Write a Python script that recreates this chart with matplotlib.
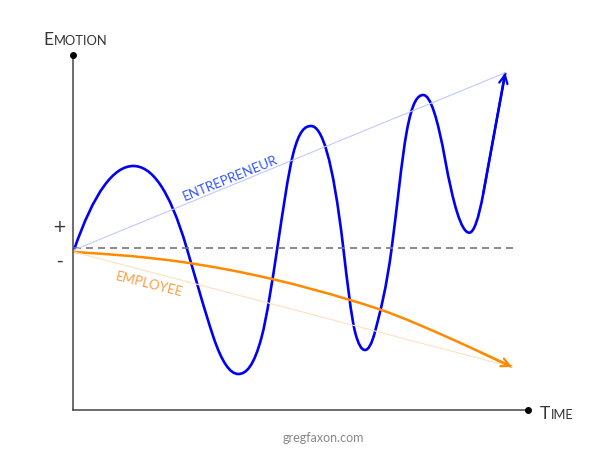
import matplotlib
matplotlib.use("Agg")
import numpy as np
import matplotlib.pyplot as plt
from matplotlib.path import Path
from matplotlib.patches import PathPatch
from matplotlib.offsetbox import TextArea, HPacker, AnnotationBbox

# key points (time, emotion) and the curve's slope there
blue_t = [0, 59.3, 112.7, 139.3, 164.3, 187.7, 203.3, 219.3, 237, 269.3, 281,
          291, 301, 317.7, 332.7, 349.3, 371, 395.3, 409.3, 431.3]
blue_e = [-2, 82, 0, -88.7, -126, -88.7, 0, 94.7, 122, 0, -83.7,
          -102, -83.7, 0, 116.3, 153, 89, 15.3, 54.7, 175.3]
blue_slope = [2.9, 0, -3.4, -3.0, 0, 3.8, 6.6, 3.9, 0, -8.5, -4,
              0, 3.8, 7.5, 5.5, 0, -5.5, 0, 5.4, 5.4]

orange_t = [0, 56, 106, 199.3, 276, 306, 376, 406, 438]
orange_e = [-4, -8, -13.7, -31.3, -52, -61.5, -90.3, -104, -119]

BLUE = "#0000f5"
ORANGE = "#ff8a00"
TXT = "#333333"


def hermite_path(xs, ys, ms):
    # cubic bezier through every key point with the given slopes
    verts = [(xs[0], ys[0])]
    codes = [Path.MOVETO]
    for i in range(len(xs) - 1):
        h = (xs[i + 1] - xs[i]) / 3
        verts += [(xs[i] + h, ys[i] + ms[i] * h),
                  (xs[i + 1] - h, ys[i + 1] - ms[i + 1] * h),
                  (xs[i + 1], ys[i + 1])]
        codes += [Path.CURVE4] * 3
    return Path(verts, codes)


fig = plt.figure(figsize=(6.15, 4.61), dpi=100)
ax = fig.add_axes([73 / 615, 51 / 461, 455 / 615, 355 / 461])
ax.set_xlim(-1, 454)
ax.set_ylim(-162, 193)
for s in ["top", "right"]:
    ax.spines[s].set_visible(False)
for s in ["left", "bottom"]:
    ax.spines[s].set_color("#444444")
    ax.spines[s].set_linewidth(1.1)
ax.set_xticks([])
ax.set_yticks([])
ax.plot([-1, 454], [193, -162], "o", color="black", ms=4, clip_on=False, zorder=5)

# baseline
ax.plot([0, 439], [0, 0], color="#777777", lw=1.2, ls=(0, (4.2, 3)))

# trend lines
ax.plot([blue_t[0], blue_t[-1]], [blue_e[0], blue_e[-1]], color="#c2c8ff", lw=0.8)
ax.plot([orange_t[0], orange_t[-1]], [orange_e[0], orange_e[-1]], color="#ffe0c2", lw=0.8)

# curves with open arrow heads
ax.add_patch(PathPatch(hermite_path(blue_t, blue_e, blue_slope), fill=False,
                       edgecolor=BLUE, lw=1.9, capstyle="butt"))
ax.annotate("", xy=(blue_t[-1], blue_e[-1]), xytext=(blue_t[-2], blue_e[-2]),
            arrowprops=dict(arrowstyle="->,head_length=0.6,head_width=0.3",
                            color=BLUE, lw=1.6, shrinkA=0, shrinkB=0))
orange_slope = np.gradient(orange_e, orange_t)
ax.add_patch(PathPatch(hermite_path(orange_t, orange_e, orange_slope), fill=False,
                       edgecolor=ORANGE, lw=1.8, capstyle="butt"))
ax.annotate("", xy=(orange_t[-1], orange_e[-1]), xytext=(orange_t[-2], orange_e[-2]),
            arrowprops=dict(arrowstyle="->,head_length=0.6,head_width=0.3",
                            color=ORANGE, lw=1.6, shrinkA=0, shrinkB=0))

font = ["Lato", "DejaVu Sans"]
ax.text(156, 70, "ENTREPRENEUR", color="#3355ff", fontsize=9.5, family=font,
        rotation=22, rotation_mode="anchor", ha="center", va="center")
ax.text(75, -36, "EMPLOYEE", color="#ff9a40", fontsize=9.5, family=font,
        rotation=-14, rotation_mode="anchor", ha="center", va="center")

# + / - marks
fig.text(59 / 615, 1 - 227 / 461, "+", fontsize=12, color=TXT, ha="center", va="center")
fig.text(59 / 615, 1 - 261 / 461, "-", fontsize=13, color=TXT, ha="center", va="center")


def small_caps(word, x, y):
    big = TextArea(word[0], textprops=dict(fontsize=12.5, color=TXT, family=font))
    rest = TextArea(word[1:].upper(), textprops=dict(fontsize=9.3, color=TXT, family=font))
    box = HPacker(children=[big, rest], align="baseline", pad=0, sep=0.6)
    fig.add_artist(AnnotationBbox(box, (x, y), xycoords="figure pixels",
                                  box_alignment=(0, 0), frameon=False, pad=0))


small_caps("Emotion", 43, 461 - 44 - 3.5)
small_caps("Time", 540, 461 - 418 - 3.5)

fig.text(323 / 615, 1 - 438 / 461, "gregfaxon.com", fontsize=9, color="#888888",
         family=font, ha="center", va="center")

fig.savefig("out.png", dpi=100)
